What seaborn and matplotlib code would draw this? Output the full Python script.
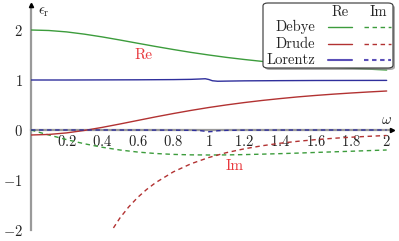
import numpy as np
import pandas as pd
import matplotlib
matplotlib.use('Agg')
import matplotlib.pyplot as plt
import seaborn as sns
from matplotlib.lines import Line2D
from matplotlib.patches import FancyBboxPatch

# values
omega = [0.0, 0.1, 0.2, 0.3, 0.4, 0.5, 0.6, 0.7, 0.8, 0.9, 1.0,
         1.1, 1.2, 1.3, 1.4, 1.5, 1.6, 1.7, 1.8, 1.9, 2.0]
debye_re = [2.0, 1.990, 1.962, 1.917, 1.862, 1.800, 1.735, 1.671, 1.610, 1.552, 1.500,
            1.452, 1.410, 1.372, 1.338, 1.308, 1.281, 1.257, 1.236, 1.217, 1.200]
debye_im = [0.0, -0.099, -0.192, -0.275, -0.345, -0.400, -0.441, -0.470, -0.488, -0.497, -0.500,
            -0.498, -0.492, -0.483, -0.473, -0.462, -0.449, -0.437, -0.425, -0.412, -0.400]
drude_re = [-0.100, -0.089, -0.058, -0.009, 0.052, 0.120, 0.191, 0.262, 0.329, 0.392, 0.450,
            0.502, 0.549, 0.591, 0.628, 0.662, 0.691, 0.717, 0.740, 0.761, 0.780]

omega_drude_im = [0.4, 0.45, 0.5, 0.55, 0.6, 0.65, 0.7, 0.8, 0.9, 1.0,
                  1.1, 1.2, 1.3, 1.4, 1.5, 1.6, 1.7, 1.8, 1.9, 2.0]
drude_im = [-2.371, -2.033, -1.760, -1.536, -1.348, -1.190, -1.055, -0.838, -0.675, -0.550,
            -0.452, -0.376, -0.315, -0.265, -0.226, -0.193, -0.166, -0.144, -0.126, -0.110]

omega_lor = [0.0, 0.2, 0.4, 0.6, 0.8, 0.9, 0.95, 0.98, 1.0, 1.02, 1.05,
             1.1, 1.2, 1.4, 1.6, 1.8, 2.0]
lorentz_re = [1.0, 1.0, 1.002, 1.004, 1.008, 1.013, 1.02, 1.025, 1.01, 0.985, 0.975,
              0.978, 0.983, 0.987, 0.99, 0.991, 0.992]
lorentz_im = [0.0, 0.0, 0.0, -0.001, -0.003, -0.006, -0.012, -0.025, -0.035, -0.03, -0.015,
              -0.007, -0.003, -0.001, 0.0, 0.0, 0.0]

xticks = [0.2, 0.4, 0.6, 0.8, 1.0, 1.2, 1.4, 1.6, 1.8, 2.0]
xticklabels = ['0.2', '0.4', '0.6', '0.8', '1', '1.2', '1.4', '1.6', '1.8', '2']
yticks = [-2, -1, 0, 1, 2]
yticklabels = ['-2', '-1', '0', '1', '2']

green = '#3c9c3c'
red = '#b23232'
blue = '#2f2f9c'
leg_blue = '#5a4fb8'
label_red = '#e8383d'
axis_gray = '#9a9a9a'

sns.set_style('white')
plt.rcParams['font.family'] = ['cmr10', 'DejaVu Serif']
plt.rcParams['mathtext.fontset'] = 'cm'

W, H = 399, 241
fig = plt.figure(figsize=(W / 100, H / 100), dpi=100)
ax = fig.add_axes([31 / W, 11 / H, 361 / W, 225 / H])

lw = 1.0
dash = (0, (3.2, 2.6))
sns.lineplot(x=omega, y=debye_re, color=green, lw=lw, ax=ax, zorder=3)
sns.lineplot(x=omega, y=debye_im, color=green, lw=lw, ls=dash, ax=ax, zorder=3)
sns.lineplot(x=omega, y=drude_re, color=red, lw=lw, ax=ax, zorder=3)
sns.lineplot(x=omega_drude_im, y=drude_im, color=red, lw=lw, ls=dash, ax=ax, zorder=3)
sns.lineplot(x=omega_lor, y=lorentz_re, color=blue, lw=lw, ax=ax, zorder=3)
sns.lineplot(x=omega_lor, y=lorentz_im, color=blue, lw=lw, ls=dash, ax=ax, zorder=3)

ax.set_xlim(0, 2.03)
ax.set_ylim(-2, 2.5)

# centered axes with arrows
for s in ['top', 'right']:
    ax.spines[s].set_visible(False)
for s in ['left', 'bottom']:
    ax.spines[s].set_position(('data', 0))
    ax.spines[s].set_color(axis_gray)
    ax.spines[s].set_linewidth(1.6)
    ax.spines[s].set_zorder(2)
ax.plot(1, 0, '>', color='black', ms=3, transform=ax.get_yaxis_transform(), clip_on=False, zorder=4)
ax.plot(0, 1, '^', color='black', ms=3, transform=ax.get_xaxis_transform(), clip_on=False, zorder=4)

ax.set_xticks(xticks)
ax.set_xticklabels(['$' + t + '$' for t in xticklabels])
ax.set_yticks(yticks)
ax.set_yticklabels(['$' + t + '$' for t in yticklabels])
ax.tick_params(axis='both', direction='inout', length=4, width=0.6, color='#b0b0b0',
               labelsize=10.5, labelcolor='#222222')
ax.tick_params(axis='x', pad=1)
ax.tick_params(axis='y', pad=4)

ax.text(1.0, 0.05, r'$\omega$', transform=ax.get_yaxis_transform(), ha='right', va='bottom',
        fontsize=10.5, color='#222222')
ax.text(0.04, 1.0, r'$\epsilon_{\mathrm{r}}$', transform=ax.get_xaxis_transform(), ha='left', va='top',
        fontsize=10.5, color='#222222')

ax.text(0.63, 1.5, 'Re', color=label_red, fontsize=11, ha='center', va='center')
ax.text(1.147, -0.72, 'Im', color=label_red, fontsize=11, ha='center', va='center')

# legend table drawn in pixel coordinates of the figure
def fx(p):
    return p / W

def fy(p):
    return 1 - p / H

shadow = FancyBboxPatch((fx(265), fy(70)), fx(395) - fx(265), fy(5) - fy(70),
                        boxstyle='round,pad=0,rounding_size=0.012', transform=fig.transFigure,
                        facecolor='#888888', edgecolor='none', alpha=0.7, zorder=5)
box = FancyBboxPatch((fx(263), fy(68)), fx(393) - fx(263), fy(3) - fy(68),
                     boxstyle='round,pad=0,rounding_size=0.012', transform=fig.transFigure,
                     facecolor='white', edgecolor='#333333', lw=0.8, zorder=6)
fig.add_artist(shadow)
fig.add_artist(box)

fig.text(fx(340), fy(12), 'Re', ha='center', va='center', fontsize=10.5, zorder=7)
fig.text(fx(378), fy(12), 'Im', ha='center', va='center', fontsize=10.5, zorder=7)
rows = [('Debye', green, 1.0, 27), ('Drude', red, 1.0, 44), ('Lorentz', leg_blue, 1.5, 60)]
for name, c, w, yy in rows:
    fig.text(fx(315), fy(yy), name, ha='right', va='center', fontsize=10.5, zorder=7)
    fig.add_artist(Line2D([fx(328), fx(352)], [fy(yy), fy(yy)], color=c, lw=w,
                          transform=fig.transFigure, zorder=7))
    fig.add_artist(Line2D([fx(364), fx(391)], [fy(yy), fy(yy)], color=c, lw=w,
                          ls=(0, (3.2 / w, 2.6 / w)), transform=fig.transFigure, zorder=7))

plt.savefig('out.png', dpi=100)
